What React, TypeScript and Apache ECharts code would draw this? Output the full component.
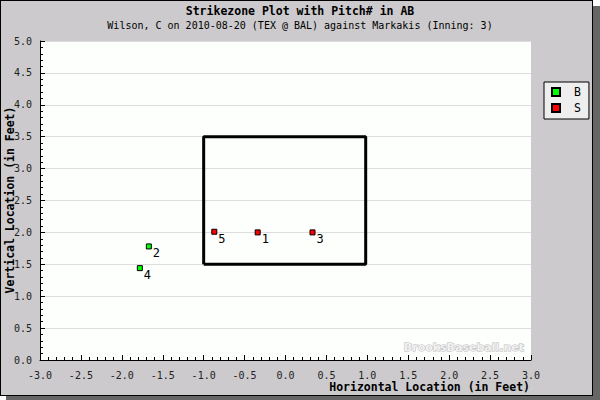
import React, { useEffect, useRef } from "react";
import * as echarts from "echarts";

const ballPitches = [2, 4];
const ballX = [-1.67, -1.78];
const ballY = [1.78, 1.44];

const strikePitches = [1, 3, 5];
const strikeX = [-0.34, 0.33, -0.87];
const strikeY = [2.0, 2.0, 2.01];

const zoneX = [-1.0, -1.0, 0.98, 0.98, -1.0];
const zoneY = [1.5, 3.5, 3.5, 1.5, 1.5];

const titleText = "Strikezone Plot with Pitch# in AB";
const subtitleText = "Wilson, C on 2010-08-20 (TEX @ BAL) against Markakis (Inning: 3)";
const xName = "Horizontal Location (in Feet)";
const yName = "Vertical Location (in Feet)";
const watermark = "BrooksBaseball.net";

const MONO = "'DejaVu Sans Mono', monospace";

export default function App() {
  const ref = useRef<HTMLDivElement>(null);

  useEffect(() => {
    if (!ref.current) return;
    const chart = echarts.init(ref.current, null, { renderer: "svg" });

    const ballData = ballX.map((x, i) => [x, ballY[i], ballPitches[i]]);
    const strikeData = strikeX.map((x, i) => [x, strikeY[i], strikePitches[i]]);
    const zoneData = zoneX.map((x, i) => [x, zoneY[i]]);

    const pointLabel = {
      show: true,
      position: [7, 4],
      formatter: (p: any) => String(p.value[2]),
      fontFamily: MONO,
      fontSize: 12,
      color: "#000",
    };

    chart.setOption({
      animation: false,
      backgroundColor: "transparent",
      title: {
        text: titleText,
        subtext: subtitleText,
        left: "center",
        top: 0,
        itemGap: 3,
        textStyle: { fontFamily: MONO, fontSize: 11.5, fontWeight: "bold", color: "#000" },
        subtextStyle: { fontFamily: MONO, fontSize: 10, color: "#000" },
      },
      legend: {
        orient: "vertical",
        left: 544,
        top: 82,
        data: ["B", "S"],
        icon: "rect",
        itemWidth: 8,
        itemHeight: 8,
        itemGap: 2,
        padding: [3, 8, 4, 7],
        backgroundColor: "#EEEEEE",
        borderColor: "#000",
        borderWidth: 1,
        textStyle: {
          fontFamily: MONO,
          fontSize: 11.5,
          color: "#000",
          lineHeight: 14,
          padding: [0, 0, 0, 9],
        },
      },
      grid: {
        left: 40,
        top: 41,
        width: 491,
        height: 319,
        containLabel: false,
        outerBoundsMode: "none",
        show: true,
        backgroundColor: "#FDFFFD",
        borderWidth: 0,
      },
      xAxis: {
        type: "value",
        min: -3,
        max: 3,
        interval: 0.5,
        axisLine: { show: true, onZero: false, lineStyle: { color: "#000", width: 1 } },
        axisTick: { show: true, inside: true, length: 5, lineStyle: { color: "#000" } },
        minorTick: { show: true, splitNumber: 5, length: 3, lineStyle: { color: "#000" } },
        splitLine: { show: false },
        axisLabel: {
          fontFamily: MONO,
          fontSize: 10,
          color: "#222",
          margin: 10,
          formatter: (v: number) => v.toFixed(1),
        },
      },
      yAxis: {
        type: "value",
        min: 0,
        max: 5,
        interval: 0.5,
        axisLine: { show: true, onZero: false, lineStyle: { color: "#000", width: 1 } },
        axisTick: { show: true, inside: true, length: 5, lineStyle: { color: "#000" } },
        minorTick: { show: true, splitNumber: 5, length: 3, lineStyle: { color: "#000" } },
        splitLine: { show: true, lineStyle: { color: "#DDDDDD", width: 1 } },
        axisLabel: {
          fontFamily: MONO,
          fontSize: 10,
          color: "#222",
          margin: 8,
          formatter: (v: number) => v.toFixed(1),
        },
      },
      graphic: [
        {
          type: "text",
          x: 530,
          y: 387,
          z: 10,
          style: {
            text: xName,
            fontFamily: MONO,
            fontSize: 11.5,
            fontWeight: "bold",
            fill: "#000",
            align: "right",
            verticalAlign: "middle",
          },
        },
        {
          type: "text",
          x: 10,
          y: 200,
          rotation: Math.PI / 2,
          z: 10,
          style: {
            text: yName,
            fontFamily: MONO,
            fontSize: 11.5,
            fontWeight: "bold",
            fill: "#000",
            align: "center",
            verticalAlign: "middle",
          },
        },
        {
          type: "text",
          x: 524,
          y: 347,
          z: 1,
          style: {
            text: watermark,
            fontFamily: "'DejaVu Sans', sans-serif",
            fontSize: 11,
            fontWeight: "bold",
            fill: "#F2F2F2",
            stroke: "#B8B8B8",
            lineWidth: 1,
            align: "right",
            verticalAlign: "middle",
          },
        },
      ],
      series: [
        {
          name: "Zone",
          type: "line",
          data: zoneData,
          symbol: "none",
          lineStyle: { color: "#000", width: 3 },
          z: 3,
          silent: true,
        },
        {
          name: "B",
          type: "scatter",
          data: ballData,
          symbol: "rect",
          symbolSize: 5,
          itemStyle: { color: "#00FF00", borderColor: "#000", borderWidth: 1, opacity: 1 },
          label: pointLabel,
          z: 4,
        },
        {
          name: "S",
          type: "scatter",
          data: strikeData,
          symbol: "rect",
          symbolSize: 5,
          itemStyle: { color: "#FF0000", borderColor: "#000", borderWidth: 1, opacity: 1 },
          label: pointLabel,
          z: 4,
        },
      ],
    });

    return () => chart.dispose();
  }, []);

  return (
    <div style={{ position: "absolute", left: 0, top: 0, width: 600, height: 400, overflow: "hidden" }}>
      <div style={{ position: "absolute", left: 6, top: 6, width: 594, height: 394, background: "#666666" }} />
      <div
        style={{
          position: "absolute",
          left: 0,
          top: 0,
          width: 593,
          height: 396,
          boxSizing: "border-box",
          background: "#CCCACC",
          border: "1px solid #000",
        }}
      />
      <div ref={ref} style={{ position: "absolute", left: 0, top: 0, width: 600, height: 400 }} />
    </div>
  );
}
